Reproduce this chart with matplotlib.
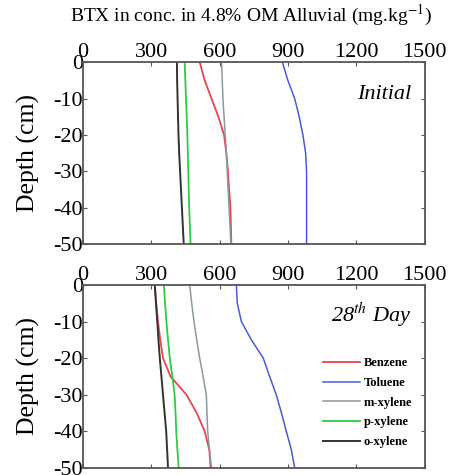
import numpy as np
import matplotlib
matplotlib.use("Agg")
import matplotlib.pyplot as plt

plt.rcParams['font.family'] = ['Liberation Serif', 'DejaVu Serif']
plt.rcParams['mathtext.fontset'] = 'stix'

# depth (cm)
depth = [0, -5, -10, -15, -20, -25, -30, -35, -40, -45, -50]

# initial concentrations (mg/kg)
benz_0 = [513, 535, 565, 595, 620, 630, 637, 642, 648, 650, 652]
tol_0 = [876, 900, 930, 950, 966, 978, 982, 982, 982, 982, 982]
mxy_0 = [609, 612, 615, 620, 625, 630, 634, 638, 642, 646, 650]
pxy_0 = [447, 450, 453, 456, 459, 461, 463, 465, 467, 470, 473]
oxy_0 = [413, 414, 416, 418, 420, 423, 427, 431, 435, 439, 443]

# 28th day concentrations (mg/kg)
benz_28 = [316, 322, 330, 340, 352, 385, 455, 500, 535, 555, 561]
tol_28 = [674, 678, 696, 740, 792, 820, 849, 872, 893, 915, 930]
mxy_28 = [469, 478, 488, 500, 513, 528, 542, 545, 548, 556, 565]
pxy_28 = [356, 361, 367, 374, 382, 393, 403, 407, 410, 415, 421]
oxy_28 = [316, 321, 327, 332, 338, 345, 352, 359, 366, 370, 374]

names = ['Benzene', 'Toluene', 'm-xylene', 'p-xylene', 'o-xylene']
colors = ['#e8434f', '#4a5ad8', '#8a9a9a', '#2ecc40', '#333333']
widths = [1.3, 1.1, 1.1, 1.3, 1.4]

fig = plt.figure(figsize=(4.6, 4.75), dpi=100)
ax1 = fig.add_axes([0.180, 0.486, 0.743, 0.383])
ax2 = fig.add_axes([0.180, 0.015, 0.743, 0.385])

data = [
    (ax1, [benz_0, tol_0, mxy_0, pxy_0, oxy_0]),
    (ax2, [benz_28, tol_28, mxy_28, pxy_28, oxy_28]),
]

for ax, series in data:
    for s, name, c, w in zip(series, names, colors, widths):
        ax.plot(s, depth, color=c, lw=w, label=name)
    ax.set_xlim(0, 1500)
    ax.set_ylim(-50, 0)
    ax.set_xticks([0, 300, 600, 900, 1200, 1500])
    ax.set_yticks([0, -10, -20, -30, -40, -50])
    ax.set_yticklabels(['0', '-10', '-20', '-30', '-40', '-50'])
    ax.xaxis.tick_top()
    ax.tick_params(axis='both', which='both', direction='in', top=True, bottom=True,
                   left=True, right=True, labelsize=16, length=3, color='#555555', pad=0)
    for sp in ax.spines.values():
        sp.set_color('#555555')
        sp.set_linewidth(1.3)
    ax.set_ylabel('Depth (cm)', fontsize=18.5)
    ax.yaxis.set_label_coords(-0.125, 0.5)

ax1.text(0.96, 0.80, 'Initial', transform=ax1.transAxes, ha='right', fontsize=16, style='italic')
ax2.text(0.96, 0.80, r'28$^{th}$ Day', transform=ax2.transAxes, ha='right', fontsize=16, style='italic')

fig.text(0.545, 0.968, r'BTX in conc. in 4.8% OM Alluvial (mg.kg$^{-1}$)', ha='center',
         va='center', fontsize=14)

leg = ax2.legend(loc='lower right', bbox_to_anchor=(0.99, 0.06), frameon=False,
                 prop={'weight': 'bold', 'size': 9}, handlelength=3.0, handletextpad=0.3,
                 labelspacing=0.62, borderaxespad=0.3)

fig.savefig('out.png', dpi=100)
